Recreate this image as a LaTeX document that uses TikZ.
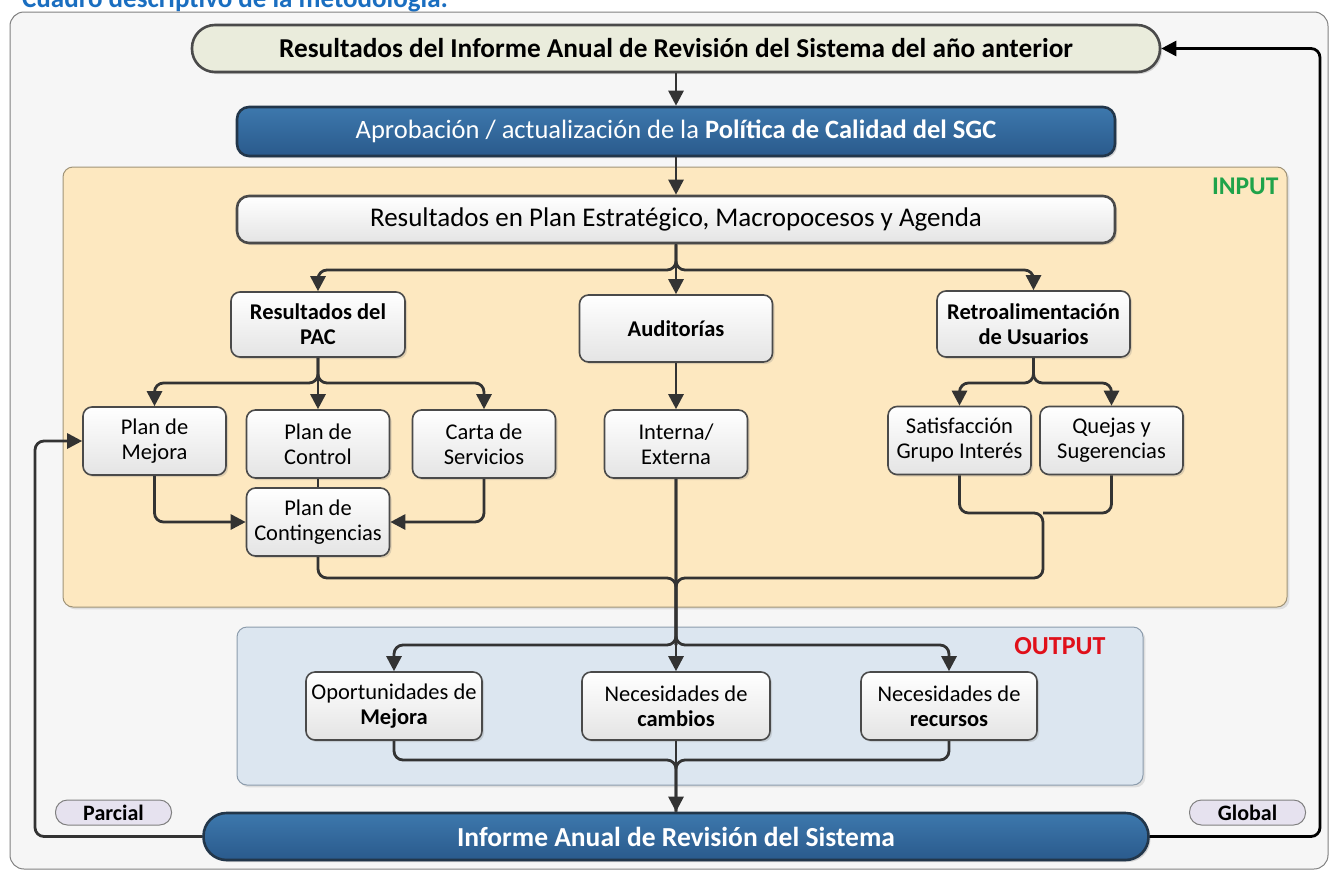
\documentclass[tikz,border=0pt]{standalone}
\usepackage{fontspec}
\setmainfont{Carlito}
\usetikzlibrary{arrows.meta,shadows}

\definecolor{titleblue}{HTML}{1A6EC0}
\definecolor{bggray}{HTML}{F6F6F6}
\definecolor{pillfill}{HTML}{EAECDC}
\definecolor{boxline}{HTML}{4A4A4A}
\definecolor{boxgray}{HTML}{E4E4E4}
\definecolor{blueup}{HTML}{3D78AD}
\definecolor{bluedown}{HTML}{2A5A8C}
\definecolor{bluedark}{HTML}{22364A}
\definecolor{inputfill}{HTML}{FDE8C0}
\definecolor{inputline}{HTML}{A09478}
\definecolor{outputfill}{HTML}{DCE6F0}
\definecolor{outputline}{HTML}{8C9CAC}
\definecolor{tagfill}{HTML}{E6E2EF}
\definecolor{ingreen}{HTML}{1FA34A}
\definecolor{outred}{HTML}{E0101A}
\definecolor{linegray}{HTML}{333333}

\tikzset{
	box/.style={draw=boxline, line width=1.6pt, rounded corners=9pt, top color=white, bottom color=boxgray,
		align=center, inner sep=0pt, minimum width=143pt, minimum height=68pt,
		font=\fontsize{22.5}{25}\selectfont,
		drop shadow={opacity=.25, shadow xshift=2pt, shadow yshift=-2pt}},
	hbox/.style={box, font=\bfseries\fontsize{22.5}{25}\selectfont},
	bluebox/.style={draw=bluedark, line width=2.6pt, top color=blueup, bottom color=bluedown, text=white,
		align=center, inner sep=0pt, drop shadow={opacity=.3, shadow xshift=2pt, shadow yshift=-2pt}},
	tag/.style={draw=gray, line width=1pt, fill=tagfill, rounded corners=12pt, inner sep=0pt,
		minimum width=116pt, minimum height=25pt, font=\bfseries\fontsize{22}{22}\selectfont},
	link/.style={line width=2.8pt, draw=linegray, rounded corners=9pt},
	arr/.style={link, -{Triangle[width=15pt,length=15pt]}}
}

\begin{document}
\begin{tikzpicture}[x=1pt,y=-1pt]
	\useasboundingbox (0,0) rectangle (1329,873);
	% Panels
	\node[anchor=base west, inner sep=0pt, text=titleblue, font=\bfseries\fontsize{27}{30}\selectfont] (title) at (22,7) {Cuadro descriptivo de la metodología:};
	\draw[draw=gray, fill=bggray, line width=1pt, rounded corners=14pt] (10,12) rectangle (1328,869);
	\draw[draw=inputline, fill=inputfill, line width=1pt, rounded corners=10pt, drop shadow={opacity=.2}] (63,167) rectangle (1287,607);
	\draw[draw=outputline, fill=outputfill, line width=1pt, rounded corners=10pt, drop shadow={opacity=.2}] (237,627) rectangle (1143,785);
	\node[anchor=east, text=ingreen, font=\bfseries\fontsize{25.5}{26}\selectfont] (inlbl) at (1282,186) {INPUT};
	\node[anchor=east, text=outred, font=\bfseries\fontsize{26}{26}\selectfont] (outlbl) at (1109,646) {OUTPUT};

	% Nodes
	\node[bluebox, draw=boxline, top color=pillfill, bottom color=pillfill, text=black, rounded corners=23pt,
		minimum width=968pt, minimum height=47pt, font=\bfseries\fontsize{27.3}{30}\selectfont] (top) at (676,48.5)
		{Resultados del Informe Anual de Revisión del Sistema del año anterior};
	\node[bluebox, rounded corners=12pt, minimum width=878pt, minimum height=49pt, font=\fontsize{26.5}{30}\selectfont] (poli) at (676,131.5)
		{Aprobación / actualización de la \textbf{Política de Calidad del SGC}};
	\node[box, line width=2.6pt, rounded corners=12pt, minimum width=878pt, minimum height=47pt, font=\fontsize{27}{30}\selectfont] (plan) at (676,219.5)
		{Resultados en Plan Estratégico, Macropocesos y Agenda};
	\node[hbox, minimum width=174pt, minimum height=65pt] (pac) at (318,324.5) {Resultados del\\PAC};
	\node[hbox, minimum width=193pt, minimum height=67pt] (aud) at (676,328.5) {Auditorías};
	\node[hbox, minimum width=193pt, minimum height=66pt] (retro) at (1033.5,324) {Retroalimentación\\de Usuarios};
	\foreach \nm/\x/\y/\txt in {mejora/154.5/441/{Plan de\\Mejora}, control/318/444/{Plan de\\Control},
		carta/484/444/{Carta de\\Servicios}, conting/318/522/{Plan de\\Contingencias},
		interna/676/444/{Interna/\\Externa}, satis/959.5/440.5/{Satisfacción\\Grupo Interés},
		quejas/1111.5/440.5/{Quejas y\\Sugerencias}}
		\node[box] (\nm) at (\x,\y) {\txt};
	\foreach \nm/\x/\w/\txt in {oport/394/176/{Oportunidades de\\\textbf{Mejora}}, cambios/676/188/{Necesidades de\\\textbf{cambios}},
		recursos/949/176/{Necesidades de\\\textbf{recursos}}}
		\node[box, minimum width=\w pt] (\nm) at (\x,706) {\txt};
	\node[bluebox, rounded corners=23pt, minimum width=945pt, minimum height=47pt, font=\bfseries\fontsize{27.5}{30}\selectfont] (informe) at (676,836.5)
		{Informe Anual de Revisión del Sistema};
	\node[tag] (parcial) at (113.5,812.5) {Parcial};
	\node[tag] (global) at (1247.5,812.5) {Global};

	% Connectors
	\coordinate (s1) at (676,270);
	\coordinate (s2) at (318,383);
	\coordinate (s3) at (1033.5,383);
	\coordinate (m3) at (1043,513);
	\coordinate (m1) at (676,578);
	\coordinate (s4) at (676,645);
	\coordinate (m2) at (676,760);
	\coordinate (lft) at (35,441);
	\coordinate (rgt) at (1320,48.5);
	\draw[arr] (top) -- (poli);
	\draw[arr] (poli) -- (plan);
	\draw[arr] (plan.south) -- (s1) -| (pac.north);
	\draw[arr] (plan) -- (aud);
	\draw[arr] (plan.south) -- (s1) -| (retro.north);
	\draw[arr] (pac.south) -- (s2) -| (mejora.north);
	\draw[arr] (pac) -- (control);
	\draw[arr] (pac.south) -- (s2) -| (carta.north);
	\draw[link] (control) -- (conting);
	\draw[arr] (mejora.south) |- (conting.west);
	\draw[arr] (carta.south) |- (conting.east);
	\draw[arr] (aud) -- (interna);
	\draw[arr] (retro.south) -- (s3) -| (satis.north);
	\draw[arr] (retro.south) -- (s3) -| (quejas.north);
	\draw[link] (satis.south) |- (m3) |- (m1) -- (s4);
	\draw[link] (quejas.south) |- (m3);
	\draw[link] (conting.south) |- (m1) -- (s4);
	\draw[arr] (interna.south) -- (s4) -| (oport.north);
	\draw[arr] (interna) -- (cambios);
	\draw[arr] (interna.south) -- (s4) -| (recursos.north);
	\draw[link] (oport.south) |- (m2) -- (informe.north);
	\draw[link] (recursos.south) |- (m2) -- (informe.north);
	\draw[arr] (cambios) -- (informe);
	\draw[arr] (informe.west) -| (lft) -- (mejora.west);
	\draw[arr, draw=black] (informe.east) -| (rgt) -- (top.east);
\end{tikzpicture}
\end{document}
